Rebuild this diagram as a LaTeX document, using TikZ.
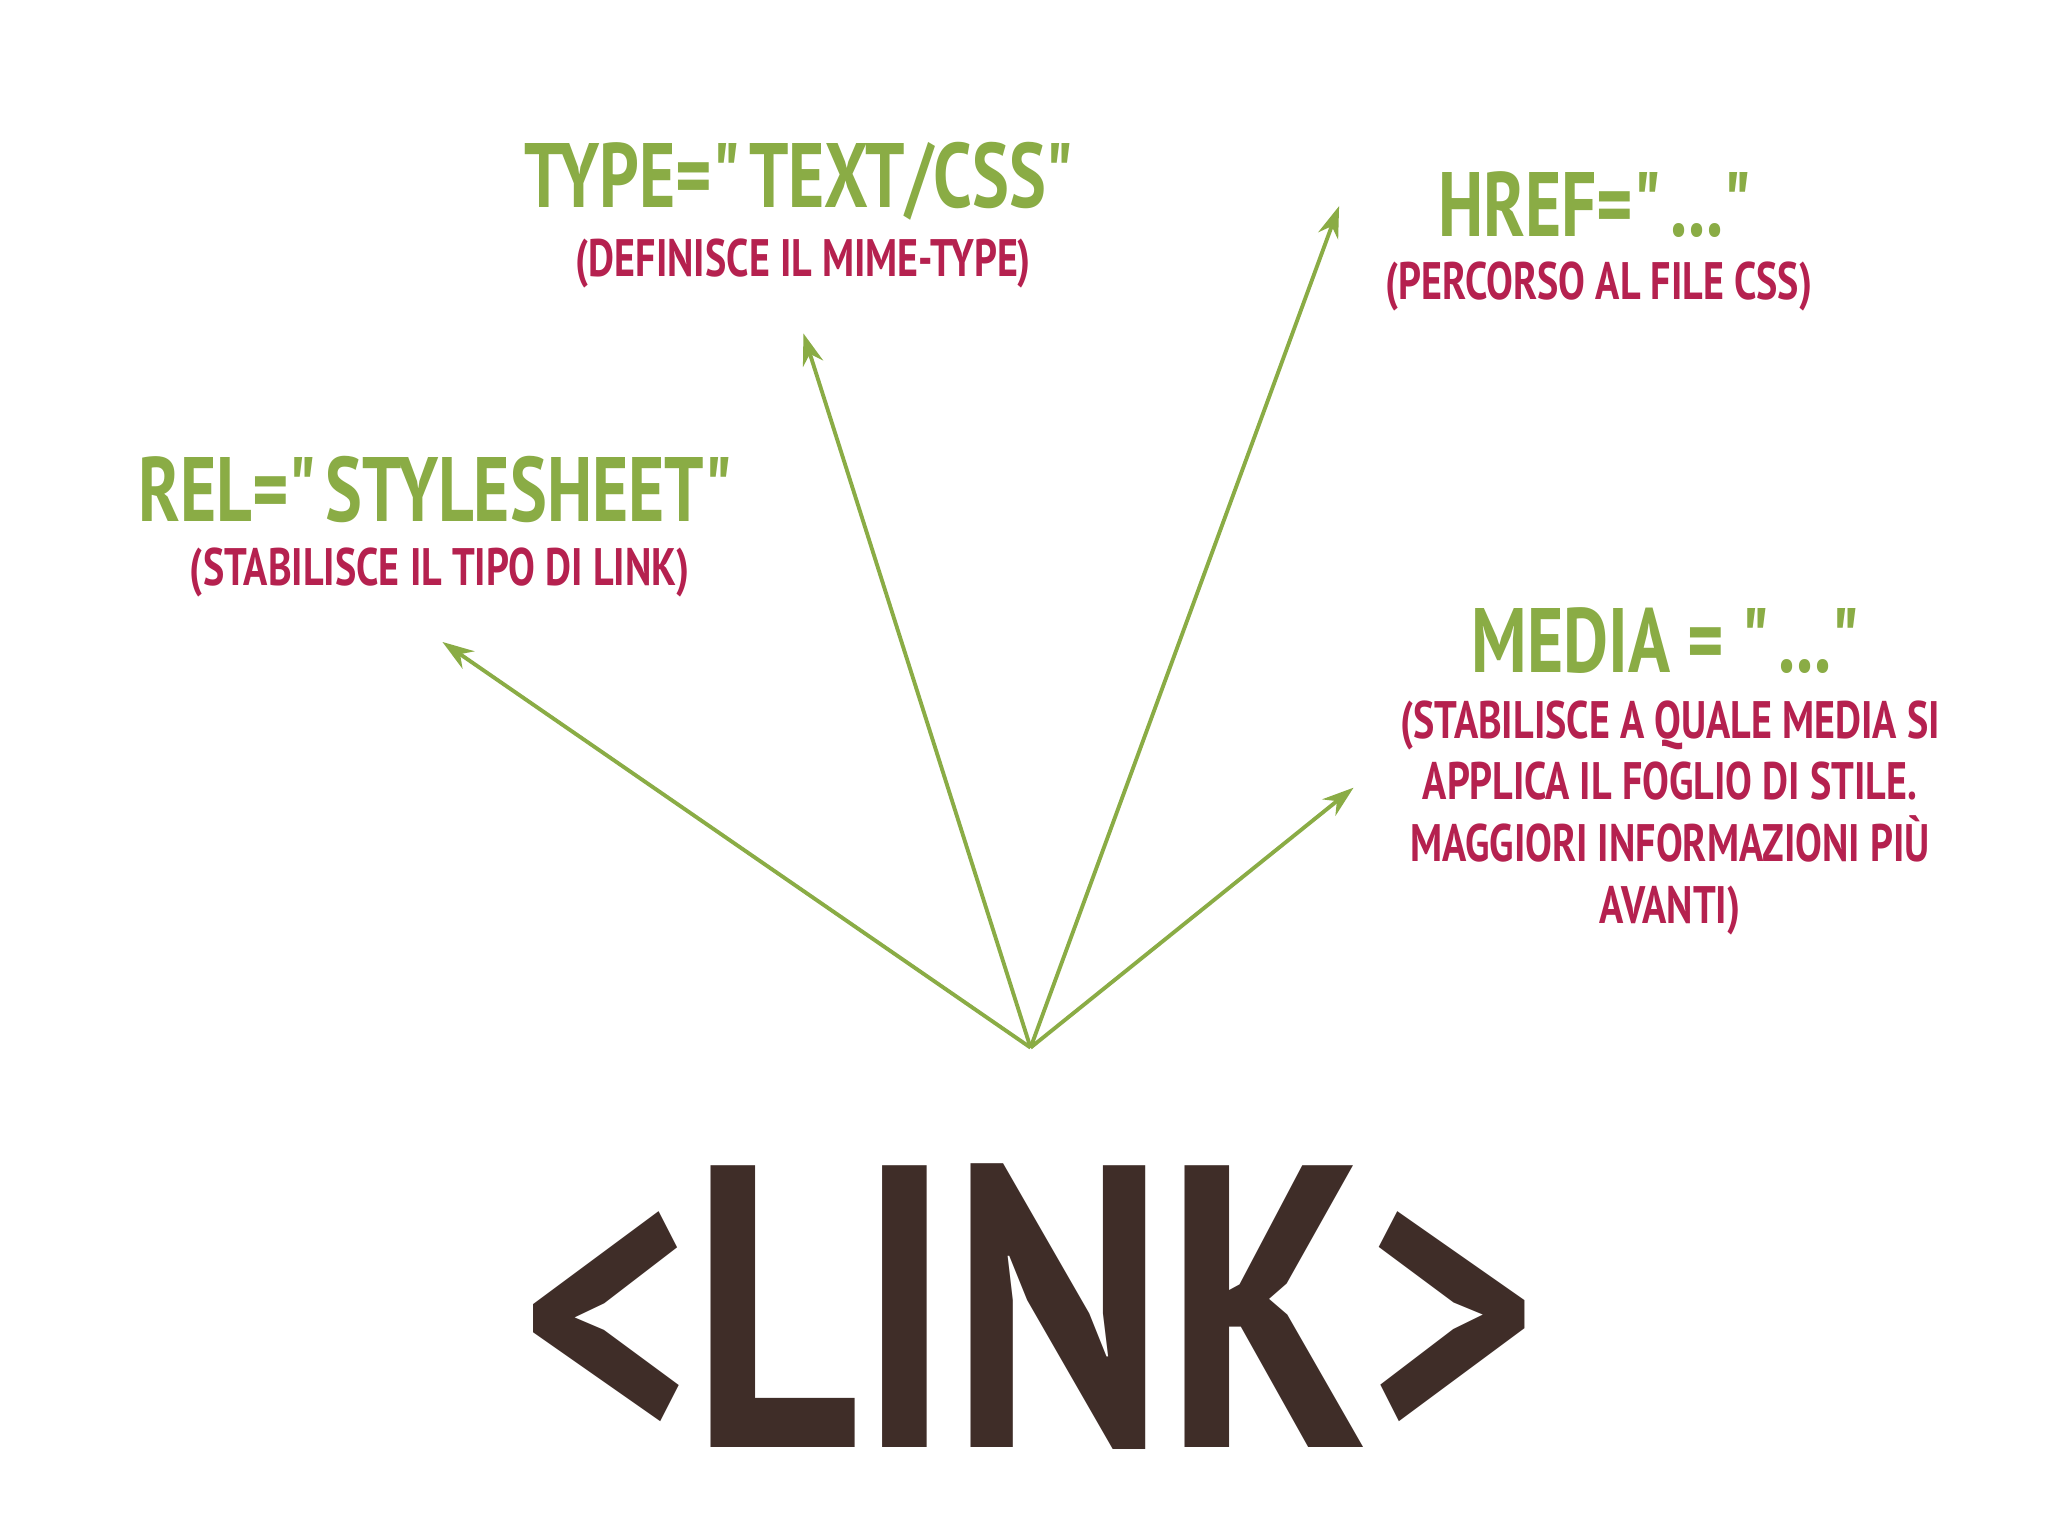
\documentclass[tikz,border=0pt]{standalone}
\usepackage{fontspec}
\setmainfont{PT Sans}[FakeStretch=0.76]
\usetikzlibrary{arrows.meta}
\definecolor{lgreen}{HTML}{8AAC45}
\definecolor{lmag}{HTML}{B5214F}
\definecolor{lbrown}{HTML}{3F2D28}
\newcommand{\qq}{\textquotedbl}
\begin{document}
\begin{tikzpicture}[x=0.013128cm,y=-0.013128cm,
  attr/.style={text=lgreen,font=\bfseries\fontsize{26}{30}\selectfont,inner sep=0},
  desc/.style={text=lmag,font=\bfseries\fontsize{15}{17.6}\selectfont,inner sep=0,align=center},
  arr/.style={draw=lgreen,line width=1.1pt,-{Stealth[length=9pt,width=6pt]}}]
\useasboundingbox[fill=white] (0,0) rectangle (1560,1170);
\coordinate (hub) at (785,798);
\node[attr] (rel) at (335,373) {REL=\qq STYLESHEET\qq};
\node[desc] (reld) at (335,436) {(STABILISCE IL TIPO DI LINK)};
\node[attr] (type) at (612,138) {TYPE=\qq TEXT/CSS\qq};
\node[desc] (typed) at (612,201) {(DEFINISCE IL MIME-TYPE)};
\node[attr] (href) at (1218,156) {HREF=\qq...\qq};
\node[desc] (hrefd) at (1218,218) {(PERCORSO AL FILE CSS)};
\node[attr] (media) at (1272,488) {MEDIA = \qq...\qq};
\node[desc,anchor=north] (mediad) at (1272,533) {(STABILISCE A QUALE MEDIA SI\\APPLICA IL FOGLIO DI STILE.\\MAGGIORI INFORMAZIONI PIÙ\\AVANTI)};
\coordinate (e1) at (337,489);
\coordinate (e2) at (612,254);
\coordinate (e3) at (1020,157);
\coordinate (e4) at (1031,600);
\foreach \e in {e1,e2,e3,e4} \draw[arr] (hub) -- (\e);
\node[inner sep=0,text=lbrown] (link) at (784,995) {\resizebox{775\dimexpr0.13128mm\relax}{216\dimexpr0.13128mm\relax}{\bfseries <LINK>}};
\end{tikzpicture}
\end{document}
